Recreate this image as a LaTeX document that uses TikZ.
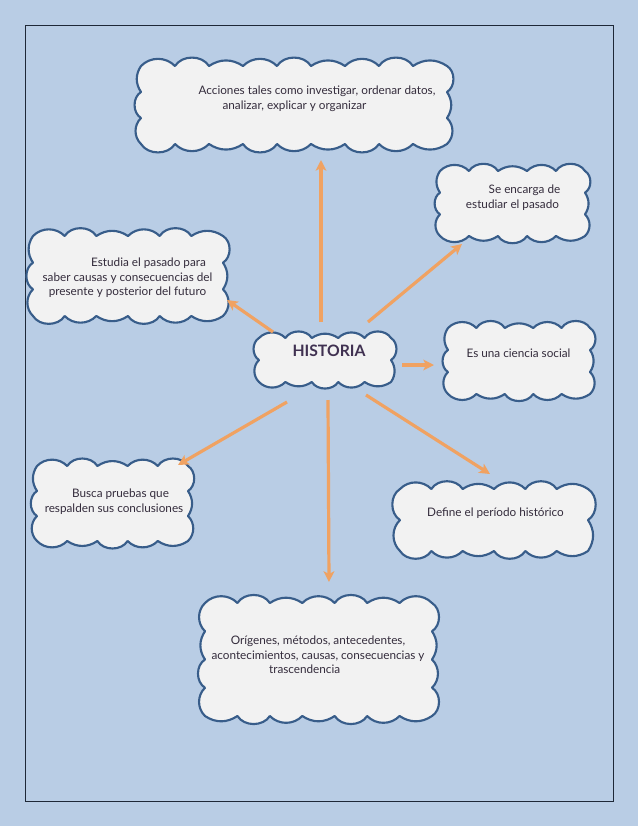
\documentclass[tikz,border=0pt]{standalone}
\usepackage{fontspec}
\setmainfont{Lato}
\usetikzlibrary{arrows.meta}
\definecolor{pagebg}{RGB}{185,205,229}
\definecolor{frameline}{RGB}{30,40,55}
\definecolor{cloudedge}{RGB}{56,93,138}
\definecolor{cloudfill}{RGB}{242,242,242}
\definecolor{arrowc}{RGB}{240,162,98}
\definecolor{txtc}{RGB}{52,44,60}
\definecolor{histc}{RGB}{64,49,81}
\tikzset{
  cloudline/.style={draw=cloudedge, fill=cloudfill, line width=1.6pt, line join=round},
  txt/.style={text=txtc, font=\fontsize{8.8}{11}\selectfont, align=center, inner sep=0pt},
  conn/.style={draw=arrowc, line width=2.4pt, -{Stealth[length=8pt,width=8pt,inset=2pt]}},
}
% #1 x1, #2 y1, #3 x2, #4 y2, #5 puffs along width, #6 puffs along height
\newcommand\mycloud[6]{%
  \path[cloudline] (#1,#2)
    \foreach \i [evaluate=\i as \b using {34+12*mod(\i,3)}] in {1,...,#5}
      { to[bend left=\b] ({#1+(#3-#1)*\i/#5},#2) }
    \foreach \i [evaluate=\i as \b using {34+12*mod(\i+1,3)}] in {1,...,#6}
      { to[bend left=\b] (#3,{#2+(#4-#2)*\i/#6}) }
    \foreach \i [evaluate=\i as \b using {34+12*mod(\i+2,3)}] in {1,...,#5}
      { to[bend left=\b] ({#3-(#3-#1)*\i/#5},#4) }
    \foreach \i [evaluate=\i as \b using {34+12*mod(\i,3)}] in {1,...,#6}
      { to[bend left=\b] (#1,{#4-(#4-#2)*\i/#6}) }
    -- cycle;}
\begin{document}
\begin{tikzpicture}[x=0.75pt,y=-0.75pt]
\useasboundingbox (0,0) rectangle (638,826);
\fill[pagebg] (0,0) rectangle (638,826);
\draw[frameline, line width=0.6pt] (25,25) rectangle (613,801);

% clouds
\mycloud{141}{66}{447}{144}{9}{3}
\mycloud{440}{171}{585}{236}{5}{3}
\mycloud{33}{236}{223}{316}{6}{3}
\mycloud{259}{338}{391}{382}{5}{2}
\mycloud{448}{328}{590}{394}{5}{3}
\mycloud{37}{466}{188}{541}{5}{3}
\mycloud{400}{489}{588}{551}{6}{2}
\mycloud{205}{603}{432}{716}{7}{4}

% texts
\node[txt] (t1) at (294.5,99) {\hspace*{33.75pt}Acciones tales como investigar, ordenar datos,\\analizar, explicar y organizar};
\node[txt] (t2) at (512.5,198) {\hspace*{18pt}Se encarga de\\estudiar el pasado};
\node[txt] (t3) at (127.5,278) {\hspace*{31.5pt}Estudia el pasado para\\saber causas y consecuencias del\\presente y posterior del futuro};
\node[text=histc, font=\bfseries\fontsize{11.8}{13}\selectfont, inner sep=0pt, anchor=base] (hist) at (329,356) {HISTORIA};
\node[txt, anchor=base] (t5) at (518.5,357) {Es una ciencia social};
\node[txt] (t6) at (114,501.75) {\hspace*{9.75pt}Busca pruebas que\\respalden sus conclusiones};
\node[txt, anchor=base] (t7) at (495.5,516) {Define el período histórico};
\node[txt] (t8) at (318,654.75) {Orígenes, métodos, antecedentes,\\acontecimientos, causas, consecuencias y\\trascendencia\hspace*{20pt}};

% arrow end points
\coordinate (uS) at (321,322);  \coordinate (uE) at (321,160);
\coordinate (urS) at (368,322); \coordinate (urE) at (462,244);
\coordinate (ulS) at (273,332); \coordinate (ulE) at (227,300);
\coordinate (rS) at (402,365);  \coordinate (rE) at (434,365);
\coordinate (dlS) at (287,402); \coordinate (dlE) at (178,465);
\coordinate (dS) at (328,400);  \coordinate (dE) at (329,582);
\coordinate (drS) at (366,395); \coordinate (drE) at (490,474);

\draw[conn] (uS) -- (uE);
\draw[conn] (urS) -- (urE);
\draw[conn] (ulS) -- (ulE);
\draw[conn] (rS) -- (rE);
\draw[conn] (dlS) -- (dlE);
\draw[conn] (dS) -- (dE);
\draw[conn] (drS) -- (drE);
\end{tikzpicture}
\end{document}
